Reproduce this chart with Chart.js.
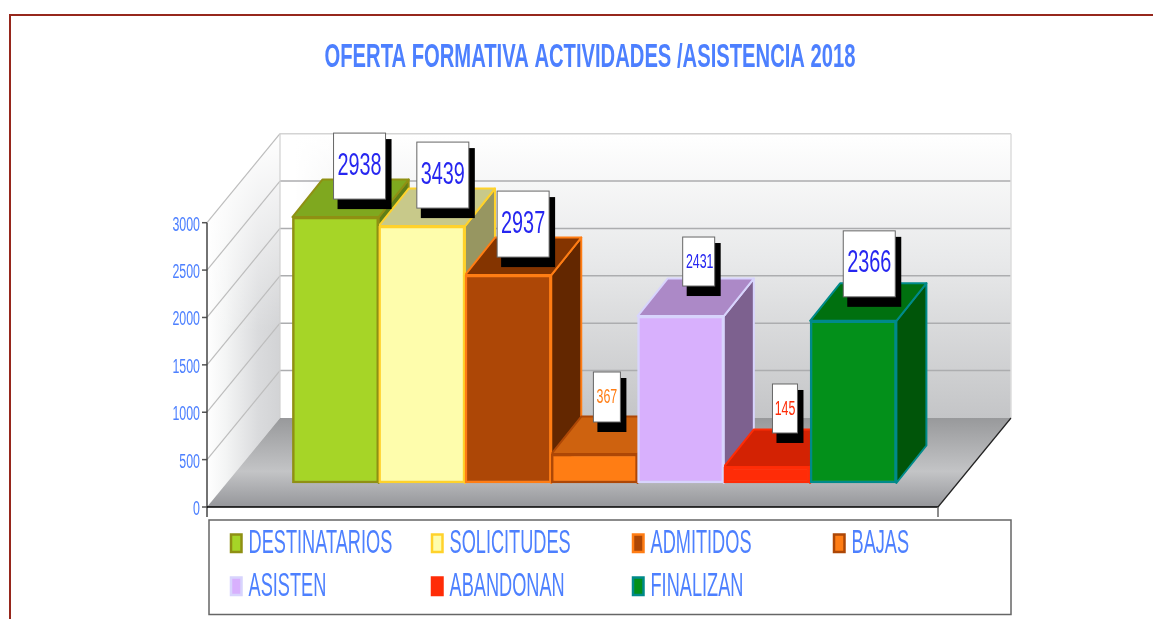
<!DOCTYPE html>
<html><head><meta charset="utf-8">
<style>html,body{margin:0;padding:0;background:#fff}canvas{display:block}</style>
<script src="https://cdn.jsdelivr.net/npm/chart.js@4/dist/chart.umd.min.js"></script>
</head><body>
<canvas id="c" width="1153" height="619"></canvas>
<script>
const chartTitle = "OFERTA FORMATIVA ACTIVIDADES /ASISTENCIA 2018";
const categories = ["DESTINATARIOS","SOLICITUDES","ADMITIDOS","BAJAS","ASISTEN","ABANDONAN","FINALIZAN"];
const barHeights = [2806,2711,2194,306,1762,169,1711];
const labelValues = [2938,3439,2937,367,2431,145,2366];
const tickValues = [0,500,1000,1500,2000,2500,3000];

const frontColors = ["#A6D527","#FEFDAC","#AD4706","#FF7D14","#D8B0FD","#FF2C07","#03901A"];
const edgeColors  = ["#8F9013","#FFD22B","#FF7D14","#AD4706","#D8D4FD","#FF2C07","#008A8A"];
const topColors   = ["#7FA81F","#C8C98A","#843400","#CE620F","#AC89C7","#D32203","#00700F"];
const sideColors  = ["#5F7E17","#979661","#632700","#9A4A0B","#7D618F","#9E1A02","#005509"];
const labelColors = ["#2626F0","#2626F0","#2626F0","#FF7D14","#2626F0","#FF2C07","#2626F0"];
const labelFonts  = [32,32,32,20,20,20,32];
const boxW  = [52,52,52,27,32,25,52];
const boxH  = [66,66,66,50,49,49,66];
const boxDX = [9,6,0,-2.5,3,3,1];
const boxDY = [0,0,0,-14,-12,-16,-6];

const FAM = "'Liberation Sans', Arial, sans-serif";
const TXT = "#4D80FF";
const AX = {left:207,right:938,dx:73,dy:89,shiftX:20.4,shiftY:24,depthX:30,depthY:37.5};

function squeezed(ctx,t,x,y,font,sx,align,color){
  ctx.save();ctx.font=font;ctx.fillStyle=color;ctx.textAlign=align;ctx.textBaseline="alphabetic";
  ctx.translate(x,y);ctx.scale(sx,1);ctx.fillText(t,0,0);ctx.restore();
}
function poly(ctx,pts,fill,stroke,lw){
  ctx.beginPath();pts.forEach((p,i)=>i?ctx.lineTo(p[0],p[1]):ctx.moveTo(p[0],p[1]));ctx.closePath();
  if(fill){ctx.fillStyle=fill;ctx.fill();}
  if(stroke){ctx.strokeStyle=stroke;ctx.lineWidth=lw||1;ctx.lineJoin="round";ctx.stroke();}
}
function line(ctx,x1,y1,x2,y2,c,w){ctx.beginPath();ctx.moveTo(x1,y1);ctx.lineTo(x2,y2);ctx.strokeStyle=c;ctx.lineWidth=w||1;ctx.stroke();}

const scene = {
  id:"scene",
  beforeDatasetsDraw(chart){
    const ctx=chart.ctx, ys=chart.scales.y;
    const y0=ys.getPixelForValue(0), yT=ys.getPixelForValue(3000);
    const L=AX.left,R=AX.right,dx=AX.dx,dy=AX.dy;
    ctx.save();
    // frame
    line(ctx,10,15,1153,15,"#96271C",2);
    line(ctx,10,14,10,619,"#96271C",2);
    // back wall
    let g=ctx.createLinearGradient(0,yT-dy,0,y0-dy);
    g.addColorStop(0,"#FFFFFF");g.addColorStop(.45,"#E8E9EA");g.addColorStop(1,"#C4C5C7");
    ctx.fillStyle=g;ctx.fillRect(L+dx,yT-dy,R-L,y0-yT);
    g=ctx.createLinearGradient(L+dx,0,L+dx+60,0);
    g.addColorStop(0,"rgba(255,255,255,1)");g.addColorStop(.25,"rgba(255,255,255,1)");g.addColorStop(1,"rgba(255,255,255,0)");
    ctx.fillStyle=g;ctx.fillRect(L+dx,yT-dy,60,y0-yT);
    // left wall
    const lw=[[L,y0],[L+dx,y0-dy],[L+dx,yT-dy],[L,yT]];
    g=ctx.createLinearGradient(L,0,L+dx,0);
    g.addColorStop(0,"#FFFFFF");g.addColorStop(.25,"#F4F5F5");g.addColorStop(.7,"#DADBDD");g.addColorStop(1,"#D2D3D5");
    poly(ctx,lw,g);
    g=ctx.createLinearGradient(0,yT-dy,0,yT+110);
    g.addColorStop(0,"rgba(255,255,255,1)");g.addColorStop(1,"rgba(255,255,255,0)");
    poly(ctx,lw,g);
    // floor
    g=ctx.createLinearGradient(0,y0-dy,0,y0);
    g.addColorStop(0,"#98999B");g.addColorStop(.6,"#C3C4C6");g.addColorStop(1,"#95969A");
    poly(ctx,[[L,y0],[R,y0],[R+dx,y0-dy],[L+dx,y0-dy]],g);
    // grid
    tickValues.forEach(v=>{
      const p=ys.getPixelForValue(v);
      if(v>0){
        line(ctx,L,p,L+dx,p-dy,"#BDBDBD",1.2);
        line(ctx,L+dx,p-dy,R+dx,p-dy,v===3000?"#D4D4D4":"#ACADAF",1.5);
      }
      line(ctx,L-5,p,L,p,"#555",1.5);
      squeezed(ctx,String(v),L-7,p+8,"20px "+FAM,.62,"right",TXT);
    });
    line(ctx,L+dx,yT-dy,L+dx,y0-dy,"#D0D0D0",1.2);
    line(ctx,R+dx,yT-dy,R+dx,y0-dy,"#DDDDDD",1.5);
    // axes
    line(ctx,L,yT,L,y0+10,"#444",1.5);
    line(ctx,L,y0,R,y0,"#000",1.5);
    line(ctx,R,y0,R,y0+10,"#666",1.5);
    line(ctx,R,y0,R+dx,y0-dy,"#222",1.2);
    ctx.restore();
  },
  beforeDatasetDraw(chart,args){
    const ctx=chart.ctx;
    ctx.save();
    args.meta.data.forEach((b,i)=>{
      const hw=b.width/2, l=b.x-hw+AX.shiftX, r=b.x+hw+AX.shiftX, t=b.y-AX.shiftY, bt=b.base-AX.shiftY;
      const a=AX.depthX, d=AX.depthY;
      poly(ctx,[[r,t],[r+a,t-d],[r+a,bt-d],[r,bt]],sideColors[i],edgeColors[i],2);
      poly(ctx,[[l,t],[l+a,t-d],[r+a,t-d],[r,t]],topColors[i],edgeColors[i],2);
    });
    ctx.translate(AX.shiftX,-AX.shiftY);
  },
  afterDatasetDraw(chart){ chart.ctx.restore(); },
  afterDatasetsDraw(chart){
    const ctx=chart.ctx, meta=chart.getDatasetMeta(0);
    ctx.save();
    meta.data.forEach((b,i)=>{
      const cx=b.x+AX.shiftX+AX.depthX/2+boxDX[i];
      const bottom=b.y-AX.shiftY-18+boxDY[i];
      const x=cx-boxW[i]/2, y=bottom-boxH[i];
      ctx.fillStyle="#000";ctx.fillRect(x+4,y+6,boxW[i]+2,boxH[i]+4);
      ctx.fillStyle="#fff";ctx.fillRect(x,y,boxW[i],boxH[i]);
      ctx.strokeStyle="#666";ctx.lineWidth=1;ctx.strokeRect(x,y,boxW[i],boxH[i]);
      const fs=labelFonts[i];
      squeezed(ctx,String(labelValues[i]),cx+(i===4?1:0),y+boxH[i]/2+fs*.36-(fs>20?3:1),fs+"px "+FAM,.62,"center",labelColors[i]);
    });
    // title
    const tf="bold 34px "+FAM;
    ctx.font=tf;
    const sx=531/ctx.measureText(chartTitle).width;
    squeezed(ctx,chartTitle,590,67,tf,sx,"center",TXT);
    // legend
    ctx.strokeStyle="#666";ctx.lineWidth=1.5;ctx.strokeRect(209,520,802,94.5);
    categories.forEach((c,i)=>{
      const col=i%4,row=Math.floor(i/4);
      const x=231+col*201, y=534.5+row*43;
      ctx.fillStyle=frontColors[i];ctx.fillRect(x,y,10.5,17.5);
      ctx.strokeStyle=edgeColors[i];ctx.lineWidth=2.5;ctx.strokeRect(x,y,10.5,17.5);
      squeezed(ctx,c,x+17.5,y+18,"33px "+FAM,.551,"left",TXT);
    });
    ctx.restore();
  }
};

new Chart(document.getElementById("c"),{
  type:"bar",
  data:{labels:categories,datasets:[{
    data:barHeights,backgroundColor:frontColors,borderColor:edgeColors,borderWidth:2.5,
    borderSkipped:false,clip:false,barPercentage:1,categoryPercentage:1
  }]},
  plugins:[scene],
  options:{
    responsive:false,animation:false,devicePixelRatio:1,
    layout:{padding:{left:272,right:277,top:222.7,bottom:112}},
    plugins:{legend:{display:false},title:{display:false},tooltip:{enabled:false}},
    scales:{
      x:{display:false},
      y:{display:false,min:0,max:3000,ticks:{stepSize:500}}
    }
  }
});
</script>
</body></html>
